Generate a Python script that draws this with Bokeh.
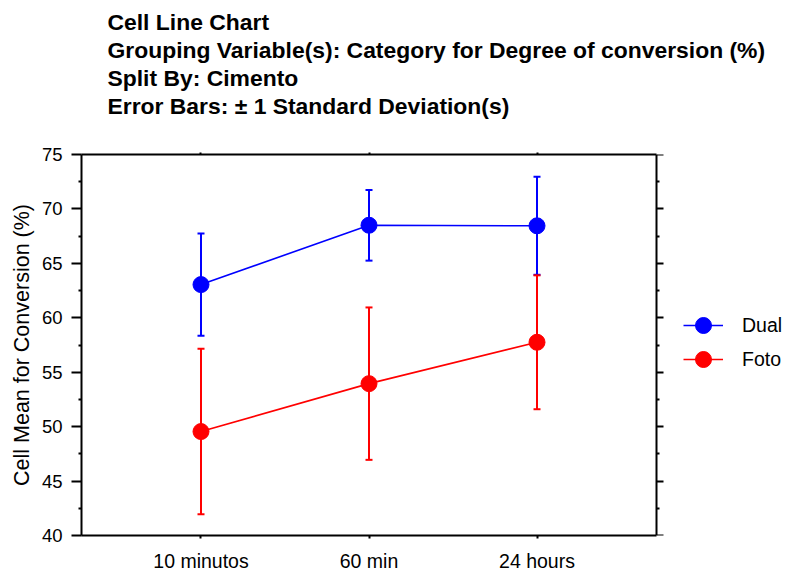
from bokeh.plotting import figure
from bokeh.models import (ColumnDataSource, FixedTicker, LinearAxis, Range1d,
                          Whisker, TeeHead, Legend, LegendItem, Title)
from bokeh.embed import file_html
from bokeh.resources import INLINE

# ---- data ----
categories = ["10 minutos", "60 min", "24 hours"]
cat_pos = [1, 2, 3]
dual_mean = [63.05, 68.5, 68.45]
dual_sd = [4.7, 3.25, 4.5]
foto_mean = [49.55, 53.95, 57.75]
foto_sd = [7.6, 7.0, 6.15]
series_names = ["Dual", "Foto"]
series_colors = ["#0000FF", "#FF0000"]
title_lines = [
    "Cell Line Chart",
    "Grouping Variable(s): Category for Degree of conversion (%)",
    "Split By: Cimento",
    "Error Bars: \u00b1 1 Standard Deviation(s)",
]
y_label = "Cell Mean for Conversion (%)"
y_ticks = [40, 45, 50, 55, 60, 65, 70, 75]
y_minor = [42.5, 47.5, 52.5, 57.5, 62.5, 67.5, 72.5]

FONT = "Liberation Sans"
W, H = 787, 574
FL, FR, FT, FB = 81, 656, 154, 537   # plot box edges in canvas pixels
X0, X1 = 0.2887, 3.7113               # x extent of the plot box
px_per_unit = (FR - FL) / (X1 - X0)
X_END = X1 + (W - FR) / px_per_unit   # frame continues to the canvas edge (room for legend)

p = figure(width=W, height=H, output_backend="svg", toolbar_location=None,
           x_range=Range1d(X0, X_END), y_range=Range1d(40, 75),
           min_border_left=FL, min_border_right=0,
           min_border_top=FT, min_border_bottom=H - FB,
           x_axis_location=None, y_axis_location=None)
p.grid.visible = False
p.outline_line_color = None
p.background_fill_color = "white"
p.border_fill_color = "white"

yt = FixedTicker(ticks=y_ticks, minor_ticks=y_minor)
xt = FixedTicker(ticks=cat_pos, minor_ticks=[])

def style(ax, size):
    ax.axis_line_width = 2
    ax.axis_line_color = "black"
    ax.major_tick_line_color = "black"
    ax.minor_tick_line_color = "black"
    ax.major_tick_line_width = 2
    ax.minor_tick_line_width = 2
    ax.major_label_text_font = FONT
    ax.major_label_text_font_size = size
    ax.major_label_text_color = "black"
    ax.axis_label_text_font = FONT
    ax.axis_label_text_font_style = "normal"
    ax.axis_label_text_font_size = "21.5px"
    ax.axis_label_text_color = "black"

left = LinearAxis(ticker=yt, axis_label=y_label)
style(left, "18.5px")
left.major_tick_out = 10
left.major_tick_in = 0
left.minor_tick_out = 3
left.minor_tick_in = 0
left.major_label_standoff = 9
left.axis_label_standoff = 5
p.add_layout(left, "left")

right = LinearAxis(ticker=yt, fixed_location=X1,
                   major_label_overrides={t: "" for t in y_ticks})
style(right, "10px")
right.major_tick_out = 7
right.major_tick_in = 0
right.minor_tick_out = 3
right.minor_tick_in = 0
right.major_label_standoff = 0
p.add_layout(right, "right")

bottom = LinearAxis(ticker=xt, bounds=(X0, X1),
                    major_label_overrides={c: l for c, l in zip(cat_pos, categories)})
style(bottom, "19.5px")
bottom.major_tick_out = 3
bottom.major_tick_in = 0
bottom.minor_tick_out = 0
bottom.minor_tick_in = 0
bottom.major_label_standoff = 11
p.add_layout(bottom, "below")

# top axis: blank labels keep a gap between the plot box and the title block
top = LinearAxis(ticker=xt, bounds=(X0, X1),
                 major_label_overrides={c: " " for c in cat_pos})
style(top, "12px")
top.major_tick_out = 2
top.major_tick_in = 0
top.minor_tick_out = 0
top.minor_tick_in = 0
top.major_label_standoff = 17
p.add_layout(top, "above")

legend_tops = [327 - 20, 361 - 20]   # item centres minus half glyph height
for name, color, mean, sd, ltop in [("Dual", series_colors[0], dual_mean, dual_sd, legend_tops[0]),
                                    ("Foto", series_colors[1], foto_mean, foto_sd, legend_tops[1])]:
    src = ColumnDataSource(dict(
        x=cat_pos, y=mean,
        lo=[m - s for m, s in zip(mean, sd)],
        hi=[m + s for m, s in zip(mean, sd)]))
    w = Whisker(source=src, base="x", lower="lo", upper="hi",
                line_color=color, line_width=2,
                upper_head=TeeHead(size=7, line_color=color, line_width=2),
                lower_head=TeeHead(size=7, line_color=color, line_width=2))
    p.add_layout(w)
    lr = p.line("x", "y", source=src, line_color=color, line_width=1.6)
    sr = p.scatter("x", "y", source=src, size=16, fill_color=color,
                   line_color=color, marker="circle")
    leg = Legend(items=[LegendItem(label=name, renderers=[lr, sr])],
                 location=(683 - FL, FB - (ltop + 40)), orientation="vertical",
                 glyph_width=40, glyph_height=40, label_height=20,
                 spacing=0, padding=0, margin=0, label_standoff=19,
                 border_line_color=None, background_fill_alpha=0,
                 label_text_font=FONT, label_text_font_size="19.5px",
                 label_text_color="black")
    p.add_layout(leg, "center")

# title lines: added nearest-to-frame first
for t in reversed(title_lines):
    p.add_layout(Title(text=t, align="left", offset=107 - FL,
                       text_font=FONT, text_font_style="bold",
                       text_font_size="22.9px", text_color="black",
                       standoff=0), "above")

open("out.html", "w").write(file_html(p, INLINE))
